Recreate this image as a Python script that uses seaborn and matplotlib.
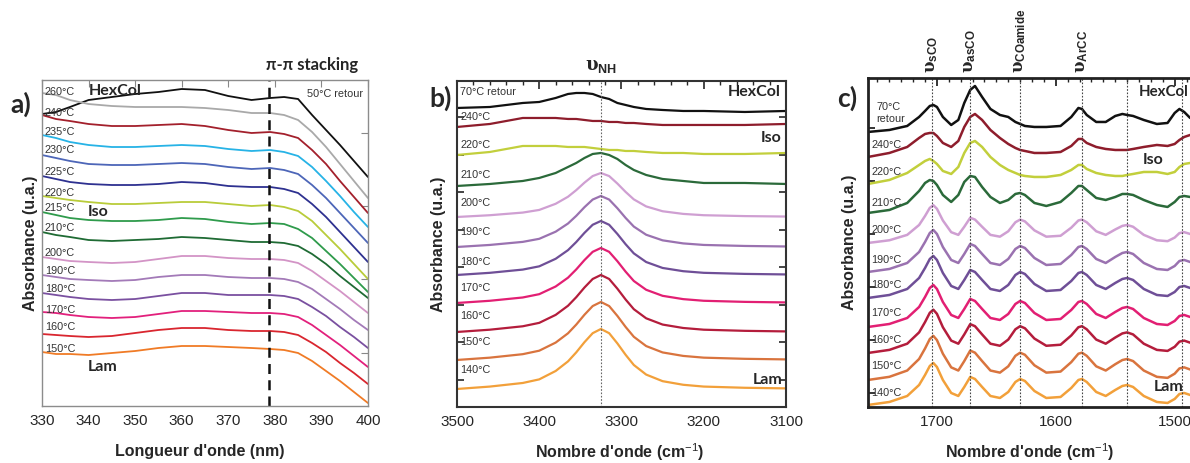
import numpy as np
import pandas as pd
import matplotlib
matplotlib.use('Agg')  # no display
import matplotlib.pyplot as plt
import seaborn as sns
from matplotlib.ticker import MultipleLocator

# ---------------- a) UV-vis, stacked spectra (u.a.) ----------------
uv_wl = [330, 333, 336, 340, 345, 350, 355, 360, 365, 370, 375, 379, 382, 385, 388, 391, 394, 397, 400]
uv_labels = ['50°C retour', '260°C', '240°C', '235°C', '230°C', '225°C', '220°C', '215°C',
             '210°C', '200°C', '190°C', '180°C', '170°C', '160°C', '150°C']
uv_absorbance = [
    [292, 294, 299, 306, 309, 312, 314, 317, 316, 310, 306, 308, 309, 307, 291, 276, 261, 245, 229],
    [313, 311, 306, 302, 300, 299, 299, 299, 298, 296, 293, 293, 291, 286, 274, 259, 242, 225, 208],
    [291, 287, 285, 282, 280, 280, 281, 282, 280, 276, 273, 274, 272, 268, 256, 242, 225, 209, 193],
    [271, 268, 264, 261, 259, 259, 260, 261, 260, 257, 255, 256, 254, 250, 239, 225, 210, 194, 179],
    [251, 248, 245, 242, 241, 241, 242, 243, 242, 239, 237, 238, 236, 232, 221, 208, 193, 178, 163],
    [230, 227, 224, 222, 221, 221, 222, 224, 223, 220, 219, 219, 217, 213, 202, 189, 174, 159, 144],
    [210, 208, 206, 204, 202, 202, 203, 204, 204, 202, 200, 201, 199, 195, 185, 171, 157, 142, 127],
    [194, 191, 188, 186, 185, 185, 186, 188, 187, 184, 182, 183, 182, 177, 168, 155, 142, 128, 114],
    [174, 171, 169, 166, 165, 166, 167, 169, 168, 166, 164, 164, 163, 160, 152, 142, 130, 119, 108],
    [149, 147, 145, 144, 143, 144, 147, 150, 150, 148, 147, 147, 146, 143, 135, 125, 115, 104, 93],
    [131, 129, 127, 126, 125, 126, 129, 131, 131, 129, 128, 128, 127, 124, 117, 107, 97, 86, 76],
    [113, 111, 109, 107, 106, 107, 110, 113, 113, 111, 111, 111, 110, 107, 99, 90, 79, 69, 58],
    [94, 93, 91, 89, 88, 89, 92, 95, 95, 94, 93, 93, 92, 89, 81, 71, 61, 50, 39],
    [72, 71, 70, 69, 70, 73, 76, 78, 78, 76, 75, 75, 74, 71, 63, 54, 43, 33, 22],
    [54, 52, 52, 51, 53, 55, 58, 60, 60, 59, 58, 57, 56, 53, 45, 35, 25, 14, 3],
]
uv_label_y = [None, 314, 293, 274, 256, 234, 213, 198, 178, 153, 135, 117, 96, 79, 57]
uv_stacking = 378.8

# ---------------- b) IR, NH stretching region ----------------
nh_wn = [3500, 3460, 3420, 3400, 3380, 3365, 3355, 3345, 3335, 3325,
         3315, 3305, 3295, 3285, 3270, 3250, 3225, 3200, 3150, 3100]
nh_70_retour = [299, 300, 304, 305, 309, 313, 314, 314, 313, 310, 308, 304, 302, 300, 298, 297, 296, 296, 295, 296]
nh_240 = [280, 283, 289, 289, 289, 288, 288, 287, 286, 286, 285, 285, 284, 284, 283, 282, 282, 282, 282, 283]
nh_220 = [252, 255, 261, 261, 261, 260, 260, 260, 259, 258, 257, 257, 256, 256, 255, 254, 254, 253, 253, 254]
nh_210 = [221, 223, 226, 229, 234, 240, 244, 249, 253, 254, 252, 248, 242, 237, 232, 228, 226, 224, 224, 223]
# Lam phase: same band shape, stacked with an offset
nh_band = [0, 0.04, 0.10, 0.16, 0.30, 0.46, 0.61, 0.78, 0.93, 1.0,
           0.93, 0.76, 0.57, 0.40, 0.24, 0.13, 0.07, 0.04, 0.02, 0.01]
nh_lam_labels = ['200°C', '190°C', '180°C', '170°C', '160°C', '150°C', '140°C']
nh_lam_offset = [190, 160, 132, 104, 75, 47, 18]
nh_lam_height = [44, 51, 54, 55, 57, 58, 60]
nh_label_y = [315, 290, 262, 232, 204, 175, 145, 119, 91, 65, 37]
nh_peak = 3325

# ---------------- c) IR, carbonyl / aromatic region ----------------
co_wn = [1758, 1740, 1725, 1715, 1710, 1706, 1703, 1700, 1695, 1688, 1682, 1677, 1672, 1668,
         1662, 1655, 1647, 1640, 1634, 1630, 1626, 1618, 1608, 1596, 1587, 1581, 1578, 1574,
         1566, 1558, 1550, 1544, 1540, 1535, 1526, 1515, 1506, 1500, 1496, 1492, 1487]
co_70_retour = [275, 277, 281, 290, 296, 301, 302, 300, 290, 282, 287, 304, 317, 321, 310, 298, 292, 290,
                285, 283, 281, 280, 280, 281, 290, 299, 298, 292, 285, 285, 291, 293, 292, 291, 287, 283,
                284, 294, 298, 295, 289]
co_240 = [250, 254, 260, 269, 273, 274, 274, 271, 264, 260, 266, 280, 290, 293, 287, 277, 269, 263, 259,
          257, 256, 254, 254, 255, 261, 268, 268, 264, 260, 258, 257, 257, 257, 258, 260, 262, 261, 263,
          267, 270, 272]
co_220 = [223, 227, 234, 242, 246, 248, 246, 243, 236, 233, 240, 254, 264, 266, 260, 250, 242, 237, 234,
          232, 231, 230, 230, 232, 237, 242, 242, 238, 234, 232, 231, 231, 232, 233, 235, 235, 233, 235,
          240, 243, 244]
co_210 = [194, 197, 204, 216, 224, 227, 226, 222, 212, 205, 212, 225, 231, 230, 220, 210, 204, 207, 213,
          214, 212, 204, 201, 205, 214, 221, 221, 217, 209, 207, 210, 213, 213, 212, 207, 202, 200, 205,
          210, 211, 210]
co_band = [0, 3, 9, 20, 30, 39, 42, 38, 25, 12, 9, 18, 28, 26, 18, 9, 7, 13, 23, 26, 24, 14, 7, 8, 17,
           25, 26, 23, 13, 9, 15, 19, 20, 18, 9, 3, 2, 6, 11, 12, 10]
co_lam_labels = ['200°C', '190°C', '180°C', '170°C', '160°C', '150°C', '140°C']
co_lam_offset = [164, 135, 109, 80, 54, 27, 2]
co_lam_scale = [0.9, 1.0, 1.0, 1.0, 1.03, 1.05, 1.0]
co_label_y = [None, 262, 235, 204, 177, 147, 122, 94, 67, 41, 14]
co_bands = [1704, 1672, 1630, 1578, 1540, 1494]
co_band_names = ['sCO', 'asCO', 'COamide', 'ArCC']

# colours
uv_colors = ['#111111', '#a9a9a9', '#a3202c', '#27b3e6', '#4d66b8', '#2e3190', '#b9cc3a', '#2f9b4c',
             '#1f6b34', '#d394c6', '#a37ab8', '#7a50a0', '#e2207c', '#d9262f', '#f07b26']
ir_colors = ['#111111', '#8e1d2c', '#c2cf3c', '#2b6a3a', '#cf9fd2', '#9a72b0', '#6f4f97',
             '#e21f73', '#b41d3c', '#d9743e', '#f2a03a']


def long_frame(x, labels, curves):
    parts = [pd.DataFrame({'x': x, 'y': ys, 'curve': lab}) for lab, ys in zip(labels, curves)]
    return pd.concat(parts, ignore_index=True)


sns.set_style('white')
plt.rcParams['font.family'] = ['Liberation Sans', 'DejaVu Sans']
plt.rcParams['mathtext.fontset'] = 'custom'
plt.rcParams['mathtext.rm'] = 'Liberation Sans'
plt.rcParams['mathtext.it'] = 'Liberation Sans:italic'
plt.rcParams['mathtext.bf'] = 'DejaVu Serif:bold'      # serif upsilon
plt.rcParams['mathtext.sf'] = 'Liberation Sans:bold'   # bold sans subscripts
HEAD = ['Lato', 'DejaVu Sans']
TEMP_FS = 7.8


def nu(sub):
    return r'$\mathbf{\upsilon}_{\mathsf{%s}}$' % sub


fig = plt.figure(figsize=(11.9, 4.63), dpi=100)
ax_a = fig.add_axes([0.0353, 0.1231, 0.2739, 0.7041])
ax_b = fig.add_axes([0.3840, 0.1210, 0.2765, 0.7041])
ax_c = fig.add_axes([0.7294, 0.1210, 0.2857, 0.7106])

# ---- panel a ----
df_a = long_frame(uv_wl, uv_labels, uv_absorbance)
sns.lineplot(data=df_a, x='x', y='y', hue='curve', palette=dict(zip(uv_labels, uv_colors)),
             estimator=None, sort=False, legend=False, lw=1.3, ax=ax_a)
ax_a.axvline(uv_stacking, color='#111111', lw=1.8, ls=(0, (4, 2.5)))
ax_a.set_xlim(330, 400)
ax_a.set_ylim(0, 326)
ax_a.set_xticks(range(330, 401, 10))
ax_a.set_yticks([53, 127, 200, 273])
ax_a.tick_params(axis='x', direction='in', top=True, length=5, color='#888888', labelsize=11, pad=6)
ax_a.tick_params(axis='y', direction='in', left=False, right=True, labelleft=False, length=5, color='#888888')
for s in ax_a.spines.values():
    s.set_color('#8c8c8c')
    s.set_linewidth(1.0)
for lab, y in zip(uv_labels, uv_label_y):
    if y is not None:
        ax_a.text(330.6, y, lab, fontsize=TEMP_FS, color='#333333', va='center', ha='left')
ax_a.text(0.813, 0.957, '50°C retour', transform=ax_a.transAxes, fontsize=TEMP_FS, color='#333333', va='center')
ax_a.text(0.144, 0.966, 'HexCol', transform=ax_a.transAxes, fontsize=11.5, fontweight='bold', family=HEAD, va='center')
ax_a.text(0.141, 0.595, 'Iso', transform=ax_a.transAxes, fontsize=11.5, fontweight='bold', family=HEAD, va='center')
ax_a.text(0.141, 0.12, 'Lam', transform=ax_a.transAxes, fontsize=11.5, fontweight='bold', family=HEAD, va='center')
ax_a.text(0.828, 1.045, 'π-π stacking', transform=ax_a.transAxes, fontsize=12, fontweight='bold',
          family=HEAD, ha='center', va='center')
ax_a.set_xlabel("Longueur d'onde (nm)", fontsize=11.5, fontweight='bold')
ax_a.xaxis.set_label_coords(0.484, -0.118)
ax_a.set_ylabel('Absorbance (u.a.)', fontsize=11.5, fontweight='bold', labelpad=3)

# ---- panel b ----
nh_labels = ['70°C retour', '240°C', '220°C', '210°C'] + nh_lam_labels
nh_curves = [nh_70_retour, nh_240, nh_220, nh_210]
for off, h in zip(nh_lam_offset, nh_lam_height):
    nh_curves.append(off + h * np.array(nh_band))
df_b = long_frame(nh_wn, nh_labels, nh_curves)
sns.lineplot(data=df_b, x='x', y='y', hue='curve', palette=dict(zip(nh_labels, ir_colors)),
             estimator=None, sort=False, legend=False, lw=1.6, ax=ax_b)
ax_b.axvline(nh_peak, color='#666666', lw=0.8, ls=(0, (1.5, 1.5)))
ax_b.set_xlim(3500, 3100)
ax_b.set_ylim(0, 326)
ax_b.xaxis.set_major_locator(MultipleLocator(100))
ax_b.xaxis.set_minor_locator(MultipleLocator(20))
ax_b.set_yticks([27, 65, 102, 140, 177, 215, 252, 290])
ax_b.tick_params(axis='x', which='major', direction='in', top=True, length=6, width=1.2, labelsize=11, pad=6)
ax_b.tick_params(axis='x', which='minor', direction='in', top=True, length=3, width=1)
ax_b.tick_params(axis='y', direction='in', left=True, right=True, labelleft=False, length=5, width=1.2)
for s in ax_b.spines.values():
    s.set_color('#333333')
    s.set_linewidth(1.5)
for lab, y in zip(nh_labels, nh_label_y):
    ax_b.text(3496, y, lab, fontsize=TEMP_FS, color='#333333', va='center', ha='left')
ax_b.text(0.985, 0.966, 'HexCol', transform=ax_b.transAxes, fontsize=11.5, fontweight='bold', family=HEAD,
          va='center', ha='right')
ax_b.text(0.985, 0.825, 'Iso', transform=ax_b.transAxes, fontsize=11.5, fontweight='bold', family=HEAD,
          va='center', ha='right')
ax_b.text(0.99, 0.083, 'Lam', transform=ax_b.transAxes, fontsize=11.5, fontweight='bold', family=HEAD,
          va='center', ha='right')
ax_b.text(nh_peak, 1.045, nu('NH'), transform=ax_b.get_xaxis_transform(),
          fontsize=13, ha='center', va='center')
ax_b.set_xlabel("Nombre d'onde (cm$^{-1}$)", fontsize=11.5, fontweight='bold')
ax_b.xaxis.set_label_coords(0.495, -0.105)
ax_b.set_ylabel('Absorbance (u.a.)', fontsize=11.5, fontweight='bold', labelpad=8)

# ---- panel c ----
co_labels = ['70°C retour', '240°C', '220°C', '210°C'] + co_lam_labels
co_curves = [co_70_retour, co_240, co_220, co_210]
for off, k in zip(co_lam_offset, co_lam_scale):
    co_curves.append(off + k * np.array(co_band))
df_c = long_frame(co_wn, co_labels, co_curves)
sns.lineplot(data=df_c, x='x', y='y', hue='curve', palette=dict(zip(co_labels, ir_colors)),
             estimator=None, sort=False, legend=False, lw=1.8, ax=ax_c)
for wn in co_bands:
    ax_c.axvline(wn, color='#444444', lw=0.8, ls=(0, (1.5, 1.5)))
for wn, name in zip(co_bands, co_band_names):
    ax_c.text(wn, 1.015, nu(name), transform=ax_c.get_xaxis_transform(),
              rotation=90, fontsize=12, ha='center', va='bottom')
ax_c.set_xlim(1758, 1472)
ax_c.set_ylim(0, 329)
ax_c.xaxis.set_major_locator(MultipleLocator(100))
ax_c.xaxis.set_minor_locator(MultipleLocator(10))
ax_c.set_yticks([14, 67, 120, 173, 226, 279])
ax_c.tick_params(axis='x', which='major', direction='in', top=True, length=6, width=1.3, labelsize=11, pad=6)
ax_c.tick_params(axis='x', which='minor', direction='in', top=True, length=3, width=1)
ax_c.tick_params(axis='y', direction='in', left=True, right=False, labelleft=False, length=5, width=1.3)
for s in ax_c.spines.values():
    s.set_color('#222222')
    s.set_linewidth(2)
for lab, y in zip(co_labels, co_label_y):
    if y is not None:
        ax_c.text(1755, y, lab, fontsize=TEMP_FS, color='#333333', va='center', ha='left')
ax_c.text(1751, 294, '70°C\nretour', fontsize=TEMP_FS, color='#333333', va='center', ha='left', linespacing=1.3)
ax_c.text(1530, 315, 'HexCol', fontsize=10.8, fontweight='bold', family=HEAD, va='center', ha='left')
ax_c.text(1527, 247, 'Iso', fontsize=11.5, fontweight='bold', family=HEAD, va='center', ha='left')
ax_c.text(1518, 20, 'Lam', fontsize=11.5, fontweight='bold', family=HEAD, va='center', ha='left')
ax_c.set_xlabel("Nombre d'onde (cm$^{-1}$)", fontsize=11.5, fontweight='bold')
ax_c.xaxis.set_label_coords((1030 - 868) / 340, -0.105)
ax_c.set_ylabel('Absorbance (u.a.)', fontsize=11.5, fontweight='bold', labelpad=8)

# panel letters
fig.text(0.0176, 0.775, 'a)', fontsize=19, fontweight='bold', family=HEAD, ha='center', va='center')
fig.text(0.370, 0.788, 'b)', fontsize=19, fontweight='bold', family=HEAD, ha='center', va='center')
fig.text(0.712, 0.788, 'c)', fontsize=19, fontweight='bold', family=HEAD, ha='center', va='center')

fig.savefig('out.png', dpi=100)
plt.close(fig)
